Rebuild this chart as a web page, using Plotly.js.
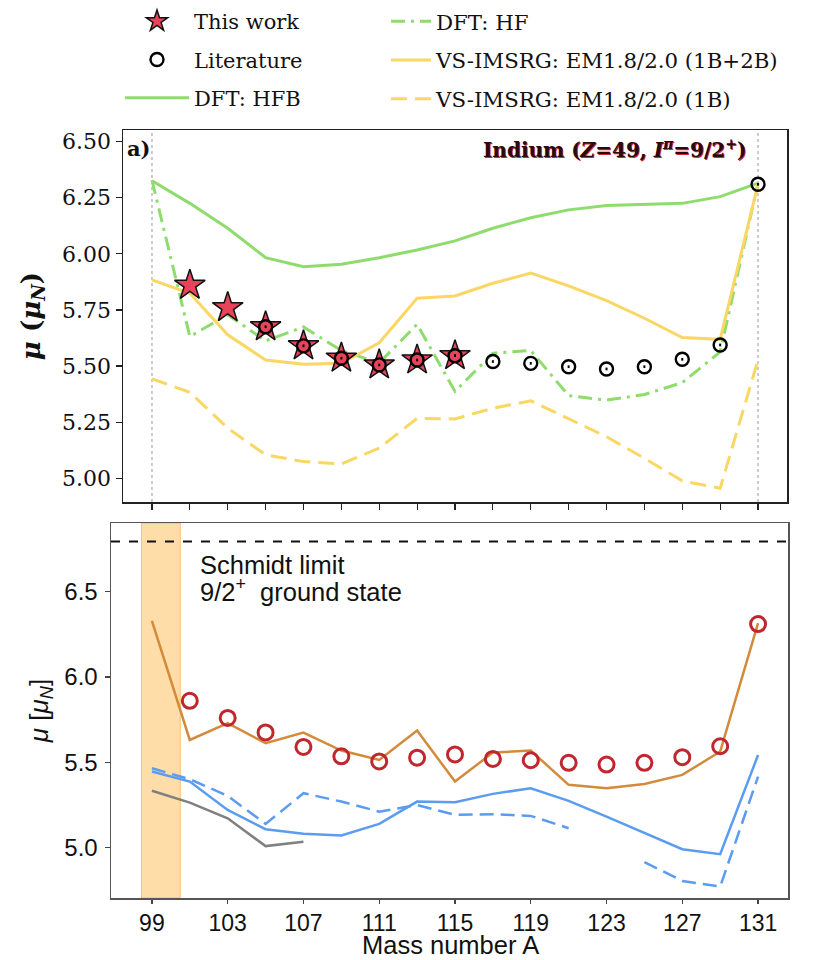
<!DOCTYPE html>
<html>
<head>
<meta charset="utf-8">
<script src="https://cdn.plot.ly/plotly-3.0.1.min.js"></script>
<style>html,body{margin:0;padding:0;background:#fff;}#plot{width:818px;height:960px;}</style>
</head>
<body>
<div id="plot"></div>
<script>
// ---------------- data ----------------
const massA = [99,101,103,105,107,109,111,113,115,117,119,121,123,125,127,129,131];
const thisWorkA = [101,103,105,107,109,111,113,115];
const thisWork = [5.86,5.76,5.675,5.59,5.535,5.505,5.527,5.546];
const thisWorkErr = [0.02,0.02,0.01,0.01,0.01,0.01,0.01,0.01];
const litA = [105,107,109,111,113,115,117,119,121,123,125,127,129,131];
const literature = [5.675,5.59,5.535,5.505,5.527,5.546,5.52,5.512,5.497,5.487,5.497,5.53,5.594,6.31];
const litErr = [0.006,0.006,0.006,0.006,0.006,0.006,0.006,0.006,0.006,0.006,0.006,0.006,0.006,0.006];
const dftHFB = [6.326,6.225,6.114,5.983,5.943,5.954,5.983,6.017,6.058,6.114,6.161,6.196,6.215,6.221,6.225,6.255,6.315];
const dftHF = [6.328,5.631,5.729,5.612,5.674,5.569,5.514,5.686,5.387,5.557,5.569,5.368,5.348,5.373,5.426,5.563,6.315];
const imsrg1B2B = [5.884,5.824,5.639,5.527,5.508,5.512,5.604,5.802,5.812,5.869,5.914,5.857,5.792,5.713,5.627,5.619,6.31];
const imsrg1B = [5.443,5.383,5.223,5.104,5.074,5.064,5.134,5.267,5.264,5.312,5.345,5.264,5.185,5.089,4.988,4.955,5.527];
// panel b
const expA = [101,103,105,107,109,111,113,115,117,119,121,123,125,127,129,131];
const expMu = [5.86,5.76,5.675,5.59,5.535,5.505,5.527,5.546,5.52,5.512,5.497,5.487,5.497,5.53,5.594,6.31];
const bOrange = [6.328,5.631,5.729,5.612,5.674,5.569,5.514,5.686,5.387,5.557,5.569,5.368,5.348,5.373,5.426,5.563,6.315];
const bBlue = [5.446,5.387,5.221,5.108,5.081,5.071,5.139,5.27,5.266,5.315,5.348,5.274,5.182,5.088,4.991,4.962,5.543];
const bBlueDash = [5.465,5.401,5.303,5.139,5.319,5.27,5.211,5.25,5.192,5.196,5.186,5.114,null,4.915,4.805,4.772,5.416];
const grayA = [99,101,103,105,107];
const bGray = [5.333,5.264,5.172,5.009,5.035];
const schmidt = 6.793;
const bandA = [98.45, 100.5];
const refLines = [99, 131];
const ticksA = [99,103,107,111,115,119,123,127,131];

const GREEN = '#8fdc6e', YELLOW = '#fad764';
const SERIF = 'DejaVu Serif', SANS = 'Liberation Sans, Arial, sans-serif';

const traces = [
  {x: massA, y: dftHFB, mode:'lines', name:'DFT: HFB', line:{color:GREEN, width:3},
   xaxis:'x', yaxis:'y', legend:'legend', legendgroup:'g3', legendrank:3},
  {x: massA, y: dftHF, mode:'lines', name:'DFT: HF', line:{color:GREEN, width:3, dash:'14px,6px,3px,6px'},
   xaxis:'x', yaxis:'y', legend:'legend2', legendgroup:'g4', legendrank:4},
  {x: massA, y: imsrg1B2B, mode:'lines', name:'VS-IMSRG: EM1.8/2.0 (1B+2B)', line:{color:YELLOW, width:3},
   xaxis:'x', yaxis:'y', legend:'legend2', legendgroup:'g5', legendrank:5},
  {x: massA, y: imsrg1B, mode:'lines', name:'VS-IMSRG: EM1.8/2.0 (1B)', line:{color:YELLOW, width:3, dash:'16px,8px'},
   xaxis:'x', yaxis:'y', legend:'legend2', legendgroup:'g6', legendrank:6},
  {x: thisWorkA, y: thisWork, mode:'markers', name:'This work',
   error_y:{type:'data', array: thisWorkErr, color:'#f06a7a', thickness:2, width:0},
   marker:{symbol:'star', size:23, color:'#e8435a', line:{color:'#111', width:1.5}},
   xaxis:'x', yaxis:'y', legend:'legend', legendgroup:'g1', legendrank:1},
  {x: litA, y: literature, mode:'markers', name:'Literature',
   error_y:{type:'data', array: litErr, color:'#000', thickness:2, width:0},
   marker:{symbol:'circle-open', size:13, color:'#000', line:{color:'#000', width:2.4}},
   xaxis:'x', yaxis:'y', legend:'legend', legendgroup:'g2', legendrank:2},
  // panel b
  {x: grayA, y: bGray, mode:'lines', line:{color:'#808080', width:2.5}, xaxis:'x2', yaxis:'y2', showlegend:false},
  {x: massA, y: bBlueDash, mode:'lines', line:{color:'#5b9cf0', width:2.5, dash:'14px,7px'}, connectgaps:false, xaxis:'x2', yaxis:'y2', showlegend:false},
  {x: massA, y: bBlue, mode:'lines', line:{color:'#5b9cf0', width:2.5}, xaxis:'x2', yaxis:'y2', showlegend:false},
  {x: massA, y: bOrange, mode:'lines', line:{color:'#d48a3b', width:2.5}, xaxis:'x2', yaxis:'y2', showlegend:false},
  {x: expA, y: expMu, mode:'markers', marker:{symbol:'circle-open', size:15, color:'#c0262d', line:{color:'#c0262d', width:3}},
   xaxis:'x2', yaxis:'y2', showlegend:false}
];

const W = 818, H = 960;
const layout = {
  width: W, height: H,
  margin: {l:0, r:0, t:0, b:0},
  paper_bgcolor:'#fff', plot_bgcolor:'#fff',
  showlegend: true,
  legend: {x: 120/W, y: 1 - 1/H, xanchor:'left', yanchor:'top', orientation:'v',
           font:{family:SERIF, size:21, color:'#111'}, bgcolor:'rgba(0,0,0,0)', borderwidth:0,
           tracegroupgap: 8, itemwidth: 64, traceorder:'grouped'},
  legend2: {x: 386/W, y: 1 - 1/H, xanchor:'left', yanchor:'top', orientation:'v',
           font:{family:SERIF, size:21.3, color:'#111'}, bgcolor:'rgba(0,0,0,0)', borderwidth:0,
           tracegroupgap: 8, itemwidth: 40, traceorder:'grouped'},
  xaxis: {domain:[123/W, 787/W], range:[97.47, 132.53], tickvals: massA, showticklabels:false,
          ticks:'outside', ticklen:6, tickwidth:1.2, tickcolor:'#222', showgrid:false, zeroline:false,
          showline:true, mirror:true, linecolor:'#222', linewidth:1.5, anchor:'y'},
  yaxis: {domain:[1-502/H, 1-130/H], range:[4.894, 6.552], tickvals:[5.0,5.25,5.5,5.75,6.0,6.25,6.5],
          tickformat:'.2f', ticks:'outside', ticklen:6, tickwidth:1.2, tickcolor:'#222',
          tickfont:{family:SERIF, size:22, color:'#111'}, showgrid:false, zeroline:false,
          showline:true, mirror:true, linecolor:'#222', linewidth:1.5, anchor:'x',
          title:{text:'<b><i>μ</i> (<i>μ</i><sub><i>N</i></sub>)</b>', font:{family:SERIF, size:26, color:'#111'}, standoff:14}},
  xaxis2: {domain:[111/W, 788/W], range:[96.84, 132.58], tickvals: ticksA, ticktext: ticksA.map(String),
           ticks:'outside', ticklen:4, tickwidth:1.2, tickcolor:'#444', ticklabelstandoff:0,
           tickfont:{family:SANS, size:23, color:'#111'}, showgrid:false, zeroline:false,
           showline:true, mirror:true, linecolor:'#555', linewidth:1.5, anchor:'y2'},
  yaxis2: {domain:[1-898/H, 1-523/H], range:[4.705, 6.902], tickvals:[5.0,5.5,6.0,6.5], tickformat:'.1f',
           ticks:'outside', ticklen:5, tickwidth:1.2, tickcolor:'#444', ticklabelstandoff:2,
           tickfont:{family:SANS, size:24, color:'#111'}, showgrid:false, zeroline:false,
           showline:true, mirror:true, linecolor:'#555', linewidth:1.5, anchor:'x2',
           title:{text:'<i>μ</i> [<i>μ</i><sub><i>N</i></sub>]', font:{family:SANS, size:26, color:'#111'}, standoff:8}},
  shapes: [
    ...refLines.map(v => ({type:'line', xref:'x', yref:'y domain', x0:v, x1:v, y0:0, y1:1,
       line:{color:'#aaa', width:1.2, dash:'dot'}, layer:'below'})),
    {type:'rect', xref:'x2', yref:'y2 domain', x0:bandA[0], x1:bandA[1], y0:0, y1:1,
       fillcolor:'rgba(253,198,110,0.6)', line:{color:'rgba(245,175,80,0.7)', width:1}, layer:'below'},
    {type:'line', xref:'x2 domain', yref:'y2', x0:0, x1:1, y0:schmidt, y1:schmidt,
       line:{color:'#111', width:2, dash:'dash'}}
  ],
  annotations: [
    {xref:'x domain', yref:'y domain', x:0.003, y:0.99, xanchor:'left', yanchor:'top', showarrow:false,
     text:'<b>a)</b>', font:{family:SERIF, size:21, color:'#111'}},
    {xref:'paper', yref:'paper', x:749/W, y:1-150/H, xanchor:'right', yanchor:'middle', showarrow:false,
     text:'<b>Indium (<i>Z</i>=49, <i>I</i><sup><i>π</i></sup>=9/2<sup>+</sup>)</b>',
     font:{family:SERIF, size:20, color:'#d8263c'}},
    {xref:'paper', yref:'paper', x:748/W, y:1-149/H, xanchor:'right', yanchor:'middle', showarrow:false,
     text:'<b>Indium (<i>Z</i>=49, <i>I</i><sup><i>π</i></sup>=9/2<sup>+</sup>)</b>',
     font:{family:SERIF, size:20, color:'#2a0a0c'}},
    {xref:'paper', yref:'paper', x:198/W, y:1-565/H, xanchor:'left', yanchor:'middle', align:'left', showarrow:false,
     text:'Schmidt limit', font:{family:SANS, size:25.5, color:'#111'}},
    {xref:'paper', yref:'paper', x:198/W, y:1-590/H, xanchor:'left', yanchor:'middle', align:'left', showarrow:false,
     text:'9/2<sup>+</sup>  ground state', font:{family:SANS, size:25.5, color:'#111'}},
    {xref:'paper', yref:'paper', x:451/W, y:0, xanchor:'center', yanchor:'bottom', borderpad:0, showarrow:false,
     text:'Mass number A', font:{family:SANS, size:25.5, color:'#111'}}
  ]
};

Plotly.newPlot('plot', traces, layout, {displayModeBar:false, staticPlot:true});
</script>
</body>
</html>
